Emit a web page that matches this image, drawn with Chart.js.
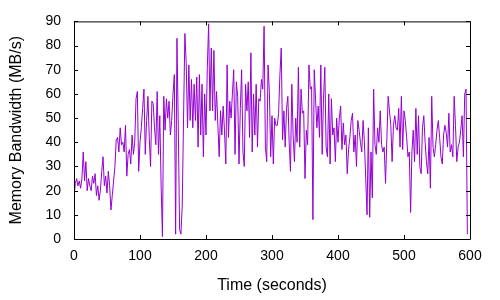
<!DOCTYPE html>
<html>
<head>
<meta charset="utf-8">
<title>Memory Bandwidth</title>
<script src="https://cdn.jsdelivr.net/npm/chart.js@4/dist/chart.umd.min.js"></script>
<style>
    html, body { margin: 0; padding: 0; background: #fff; }
    #wrap { width: 500px; height: 300px; }
</style>
</head>
<body>
<div id="wrap"><canvas id="bwChart" width="500" height="300"></canvas></div>
<script>
// sample times (seconds)
const times = [
    0, 2, 4, 6, 8, 10, 12, 14, 16, 18, 20, 22, 24, 26, 28, 30, 32, 34, 36, 38,
    40, 42, 44, 46, 48, 50, 52, 54, 56, 58, 60, 62, 64, 66, 68, 70, 72, 74, 76, 78,
    80, 82, 84, 86, 88, 90, 92, 94, 96, 98, 100, 102, 104, 106, 108, 110, 112, 114, 116, 118,
    120, 122, 124, 126, 128, 130, 132, 134, 136, 138, 140, 142, 144, 146, 148, 150, 152, 154, 156, 158,
    160, 162, 164, 166, 168, 170, 172, 174, 176, 178, 180, 182, 184, 186, 188, 190, 192, 194, 196, 198,
    200, 202, 204, 206, 208, 210, 212, 214, 216, 218, 220, 222, 224, 226, 228, 230, 232, 234, 236, 238,
    240, 242, 244, 246, 248, 250, 252, 254, 256, 258, 260, 262, 264, 266, 268, 270, 272, 274, 276, 278,
    280, 282, 284, 286, 288, 290, 292, 294, 296, 298, 300, 302, 304, 306, 308, 310, 312, 314, 316, 318,
    320, 322, 324, 326, 328, 330, 332, 334, 336, 338, 340, 342, 344, 346, 348, 350, 352, 354, 356, 358,
    360, 362, 364, 366, 368, 370, 372, 374, 376, 378, 380, 382, 384, 386, 388, 390, 392, 394, 396, 398,
    400, 402, 404, 406, 408, 410, 412, 414, 416, 418, 420, 422, 424, 426, 428, 430, 432, 434, 436, 438,
    440, 442, 444, 446, 448, 450, 452, 454, 456, 458, 460, 462, 464, 466, 468, 470, 472, 474, 476, 478,
    480, 482, 484, 486, 488, 490, 492, 494, 496, 498, 500, 502, 504, 506, 508, 510, 512, 514, 516, 518,
    520, 522, 524, 526, 528, 530, 532, 534, 536, 538, 540, 542, 544, 546, 548, 550, 552, 554, 556, 558,
    560, 562, 564, 566, 568, 570, 572, 574, 576, 578, 580, 582, 584, 586, 588, 590, 592, 594, 596
];

// memory bandwidth (MB/s)
const bandwidth = [
    17, 23, 25, 22, 24, 21, 25, 36, 24, 32, 20, 25, 22, 20, 26, 23, 27, 18, 22, 16,
    20, 28, 34, 22, 26, 19, 28, 22, 12, 18, 24, 30, 41, 42, 36, 46, 39, 40,
    36, 47, 26, 35, 37, 31, 43, 35, 40, 58, 61, 28, 40, 46, 54, 62, 35, 49, 59, 42,
    30, 57, 56, 46, 39, 61, 35, 51, 22, 1, 59, 45, 58, 50, 57, 43, 49, 60, 68, 2, 83,
    47, 4, 2, 14, 50, 85, 73, 46, 72, 49, 66, 46, 64, 49, 67, 38, 68, 43, 64, 34,
    60, 43, 71, 89, 53, 79, 53, 78, 49, 61, 47, 34, 53, 43, 55, 45, 31, 72, 42,
    57, 50, 60, 70, 35, 65, 59, 31, 54, 70, 36, 30, 64, 53, 65, 42, 77, 36, 60, 43,
    64, 38, 58, 57, 66, 62, 88, 38, 32, 72, 61, 34, 51, 31, 50, 47, 47, 52, 68, 79, 41,
    53, 38, 54, 59, 40, 28, 64, 43, 32, 50, 40, 71, 38, 62, 52, 53, 25, 45, 39, 72,
    62, 63, 8, 70, 58, 46, 55, 42, 72, 35, 58, 71, 38, 34, 60, 31, 58, 43, 46, 32, 50,
    40, 50, 55, 37, 48, 39, 43, 27, 37, 42, 49, 52, 36, 43, 30, 49, 45, 40, 36, 49,
    40, 25, 10, 46, 9, 36, 17, 62, 39, 35, 46, 40, 53, 39, 36, 38, 23, 41, 59,
    53, 47, 32, 47, 51, 46, 45, 54, 38, 59, 37, 53, 49, 42, 34, 36, 11, 36, 45, 32,
    54, 35, 51, 30, 27, 46, 51, 40, 32, 27, 42, 21, 59, 38, 34, 39, 45, 49, 42,
    34, 31, 43, 47, 44, 38, 52, 36, 39, 34, 59, 47, 32, 38, 40, 45, 51, 34, 60, 62, 2
];

// axis ticks
const xTicks = [0, 100, 200, 300, 400, 500, 600];
const yTicks = [0, 10, 20, 30, 40, 50, 60, 70, 80, 90];

const FONT = "'Liberation Sans', Arial, Helvetica, sans-serif";

// gnuplot style frame with inward ticks on all four sides
const framePlugin = {
    id: "frame",
    afterDraw(chart) {
        const { ctx, chartArea: a, scales } = chart;
        const len = 4;
        ctx.save();
        ctx.strokeStyle = "#000";
        ctx.lineWidth = 1;
        ctx.beginPath();
        ctx.rect(a.left + 0.5, a.top + 0.5, a.right - a.left, a.bottom - a.top);
        xTicks.forEach((v) => {
            const x = Math.round(scales.x.getPixelForValue(v)) + 0.5;
            ctx.moveTo(x, a.bottom);
            ctx.lineTo(x, a.bottom - len);
            ctx.moveTo(x, a.top);
            ctx.lineTo(x, a.top + len);
        });
        yTicks.forEach((v) => {
            const y = Math.round(scales.y.getPixelForValue(v)) + 0.5;
            ctx.moveTo(a.left, y);
            ctx.lineTo(a.left + len, y);
            ctx.moveTo(a.right, y);
            ctx.lineTo(a.right - len, y);
        });
        ctx.stroke();
        ctx.restore();
    },
};

const points = times.map((t, i) => ({ x: t, y: bandwidth[i] }));

new Chart(document.getElementById("bwChart"), {
    type: "line",
    data: {
        datasets: [
            {
                data: points,
                borderColor: "#9400D3",
                borderWidth: 1,
                pointRadius: 0,
                tension: 0,
                fill: false,
            },
        ],
    },
    options: {
        responsive: false,
        animation: false,
        layout: { padding: { top: 20, right: 30, left: 0, bottom: 0 } },
        plugins: { legend: { display: false }, tooltip: { enabled: false } },
        scales: {
            x: {
                type: "linear",
                min: 0,
                max: 600,
                afterFit: (s) => { s.height = 61; },
                afterBuildTicks: (s) => { s.ticks = xTicks.map((v) => ({ value: v })); },
                grid: { display: false, drawTicks: false },
                border: { display: false },
                ticks: {
                    padding: 9,
                    color: "#000",
                    maxRotation: 0,
                    font: { family: FONT, size: 14 },
                },
                title: {
                    display: true,
                    text: "Time (seconds)",
                    color: "#000",
                    font: { family: FONT, size: 16 },
                    padding: { top: 0, bottom: 5 },
                },
            },
            y: {
                min: 0,
                max: 90,
                afterFit: (s) => { s.width = 74; },
                afterBuildTicks: (s) => { s.ticks = yTicks.map((v) => ({ value: v })); },
                grid: { display: false, drawTicks: false },
                border: { display: false },
                ticks: {
                    padding: 13,
                    color: "#000",
                    font: { family: FONT, size: 14 },
                },
                title: {
                    display: true,
                    text: "Memory Bandwidth (MB/s)",
                    color: "#000",
                    font: { family: FONT, size: 16 },
                    padding: { top: 7, bottom: 0 },
                },
            },
        },
    },
    plugins: [framePlugin],
});
</script>
</body>
</html>
